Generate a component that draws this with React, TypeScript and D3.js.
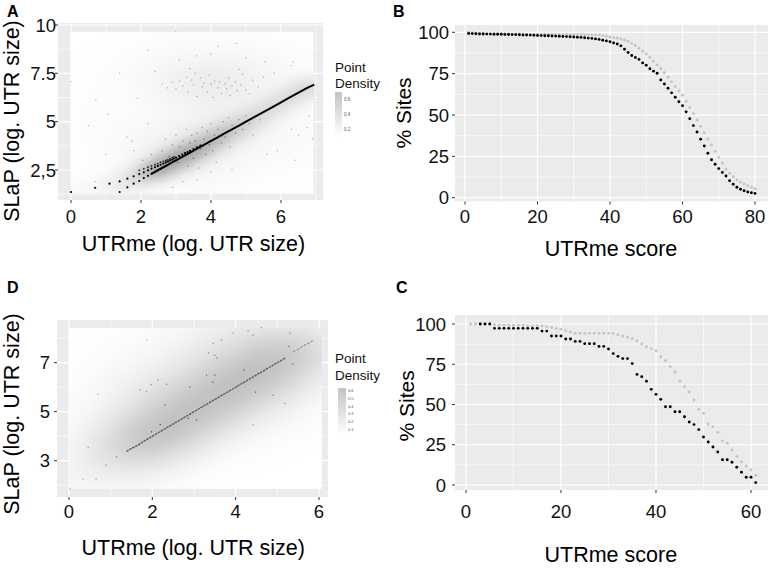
import React, { useMemo } from "react";
import * as d3 from "d3";

const FONT = "'Liberation Sans', Arial, Helvetica, sans-serif";

// ---------------- Panel B (UTRme score vs % sites) ----------------
const bBlack = [
  99.3, 99.2, 99.1, 99.0, 99.0, 98.9, 98.9, 98.8, 98.8, 98.8,
  98.7, 98.7, 98.6, 98.6, 98.5, 98.4, 98.4, 98.3, 98.2, 98.1,
  98.0, 97.9, 97.9, 97.8, 97.7, 97.6, 97.5, 97.4, 97.3, 97.2,
  97.0, 96.9, 96.7, 96.5, 96.3, 96.0, 95.7, 95.2, 94.8, 94.3,
  93.6, 92.9, 91.8, 89.8, 87.8, 86.0, 84.8, 83.6, 81.5, 80.1,
  78.0, 76.5, 75.2, 71.2, 68.7, 66.2, 63.4, 60.7, 58.0, 55.6,
  51.9, 47.8, 43.6, 39.7, 35.4, 31.3, 26.9, 22.9, 20.2, 17.6,
  15.3, 13.1, 10.3, 8.1, 6.3, 5.1, 4.2, 3.4, 3.0, 2.6,
];
const bGrey = [
  100, 99.8, 99.5, 99.4, 99.3, 99.3, 99.2, 99.2, 99.2, 99.1,
  99.1, 99.1, 99.0, 99.0, 99.0, 99.0, 98.9, 98.9, 98.9, 98.9,
  98.8, 98.8, 98.8, 98.8, 98.7, 98.7, 98.7, 98.7, 98.6, 98.6,
  98.6, 98.5, 98.5, 98.5, 98.4, 98.4, 98.3, 98.0, 97.6, 97.2,
  96.8, 96.4, 96.0, 95.3, 94.6, 93.3, 92.0, 90.3, 88.6, 86.9,
  84.8, 82.5, 80.3, 78.0, 75.5, 72.8, 70.0, 67.2, 64.5, 61.9,
  58.3, 54.6, 50.8, 47.0, 43.2, 39.3, 35.5, 31.9, 28.0, 24.4,
  20.8, 17.2, 14.8, 12.7, 10.9, 9.3, 8.3, 7.3, 6.3, 5.4,
];

// ---------------- Panel C ----------------
const cBlack: (number | null)[] = [
  null, null, 100, 100, 100, 97.3, 97.3, 97.3, 97.3, 97.3,
  97.3, 97.3, 97.3, 97.3, 97.3, 95.6, 95.6, 92.5, 92.5, 92.5,
  90.7, 90.7, 89.2, 89.2, 87.8, 87.8, 87.8, 86.1, 86.1, 84.5,
  81.6, 79.9, 78.5, 78.5, 75.4, 68.7, 67.3, 64.4, 59.4, 56.3,
  53.2, 48.6, 48.6, 45.5, 45.5, 42.4, 39.1, 37.5, 34.4, 29.8,
  26.7, 23.6, 20.5, 15.7, 15.7, 14.1, 11.0, 7.9, 4.8, 4.8,
  1.5,
];
const cGrey: (number | null)[] = [
  100, 100, 100, 100, 100, 99.5, 99.2, 99.2, 99.2, 99.2,
  99.2, 99.2, 98.8, 98.8, 98.8, 98.8, 98.3, 97.8, 97.2, 96.7,
  95.8, 95.0, 94.2, 94.2, 94.2, 94.2, 94.2, 94.2, 94.2, 94.2,
  94.2, 93.4, 92.5, 91.7, 90.9, 89.6, 87.6, 85.9, 84.7, 83.4,
  79.7, 77.2, 73.5, 70.2, 64.4, 61.1, 57.8, 52.8, 47.0, 44.5,
  37.9, 36.2, 32.7, 27.3, 25.9, 21.7, 17.6, 14.5, 11.8, 9.3,
  6.0,
];

// ---------------- Panel A (log UTR sizes) ----------------
const aLineX = [2.3, 2.5, 2.7, 2.9, 3.05, 3.2, 3.35, 3.5, 3.65, 3.8, 3.95, 4.1, 4.25, 4.4, 4.6, 4.8, 5.0, 5.3, 5.6, 5.9, 6.2, 6.5, 6.75, 6.95];
const aLineY = [2.3, 2.5, 2.7, 2.9, 3.05, 3.2, 3.35, 3.5, 3.65, 3.8, 3.95, 4.1, 4.25, 4.4, 4.6, 4.8, 5.0, 5.3, 5.6, 5.9, 6.2, 6.5, 6.75, 6.92];
const aStepX = [0.0, 0.69, 1.10, 1.39, 1.39, 1.61, 1.61, 1.79, 1.79, 1.95, 1.95, 2.08, 2.08, 2.20, 2.20, 2.30, 2.30, 2.40, 2.40, 2.48, 2.48, 2.56, 2.56, 2.64, 2.64, 2.71, 2.71, 2.77, 2.83, 2.89, 2.94, 3.0, 3.09, 3.18, 3.26, 3.33, 3.4, 3.5, 3.6, 3.7];
const aStepY = [1.36, 1.58, 1.79, 1.91, 1.36, 2.05, 1.60, 2.17, 1.79, 2.29, 1.93, 2.38, 2.08, 2.48, 2.20, 2.57, 2.30, 2.64, 2.40, 2.71, 2.48, 2.77, 2.56, 2.83, 2.64, 2.89, 2.71, 2.94, 3.0, 3.04, 3.09, 3.14, 3.22, 3.30, 3.37, 3.43, 3.49, 3.58, 3.67, 3.76];
const aStep2X = [1.95, 2.08, 2.20, 2.30, 2.40, 2.48, 2.56, 2.64, 2.71, 2.77, 2.83, 2.89, 2.94];
const aStep2Y = [2.48, 2.56, 2.64, 2.71, 2.77, 2.83, 2.89, 2.94, 3.0, 3.04, 3.09, 3.14, 3.18];
const aScatter: [number, number][] = [
  [2.6, 6.95], [2.75, 6.75], [2.9, 7.05], [3.0, 6.7], [3.1, 7.1], [3.2, 6.85], [3.3, 7.3], [3.35, 6.55], [3.45, 7.15], [3.5, 6.9],
  [3.55, 7.5], [3.6, 6.3], [3.7, 7.25], [3.75, 6.8], [3.8, 7.0], [3.9, 6.55], [3.95, 7.4], [4.0, 6.95], [4.05, 6.25], [4.1, 7.1],
  [4.2, 6.75], [4.25, 7.05], [4.3, 6.45], [4.4, 6.95], [4.45, 6.7], [4.5, 7.25], [4.55, 6.35], [4.6, 6.85], [4.7, 7.05], [4.75, 6.6],
  [4.85, 6.9], [4.9, 7.45], [5.0, 6.65], [5.1, 6.45], [5.2, 7.15], [5.35, 6.8], [5.5, 7.3], [3.4, 7.75], [2.4, 7.6], [4.8, 7.7],
  [5.8, 7.5], [6.3, 7.9], [6.35, 8.1], [2.99, 9.69], [4.2, 8.9], [4.73, 9.05], [5.54, 8.1], [3.1, 8.2], [3.6, 8.4], [4.0, 8.5],
  [2.2, 8.7], [5.0, 8.3], [0.0, 7.07], [0.71, 6.1], [1.39, 7.5], [1.07, 5.4], [1.9, 6.2], [0.5, 4.8], [1.6, 4.2], [1.0, 3.3],
  [1.8, 3.5], [0.69, 1.9], [2.2, 4.9], [1.75, 4.0], [2.3, 3.3], [2.05, 3.0], [2.6, 3.5], [2.7, 4.1], [2.8, 3.2], [2.9, 3.8],
  [3.0, 4.3], [3.05, 2.9], [3.1, 3.7], [3.2, 4.0], [3.25, 3.4], [3.3, 4.6], [3.35, 2.7], [3.4, 3.9], [3.45, 4.3], [3.5, 3.1],
  [3.55, 4.0], [3.6, 4.4], [3.65, 2.6], [3.7, 3.6], [3.75, 4.7], [3.8, 4.1], [3.85, 3.3], [3.9, 4.5], [3.95, 3.8], [4.0, 4.9],
  [4.05, 3.5], [4.1, 4.3], [4.15, 2.9], [4.2, 4.6], [4.3, 3.9], [4.35, 5.0], [4.4, 4.2], [4.5, 5.2], [4.55, 3.7], [4.6, 4.8],
  [4.7, 4.4], [4.8, 5.1], [4.9, 4.6], [5.0, 5.3], [5.1, 4.9], [5.2, 4.3], [5.4, 5.1], [3.6, 2.0], [4.0, 2.4], [3.2, 1.9],
  [4.6, 2.5], [2.9, 1.6], [6.3, 4.6], [6.5, 4.3], [6.8, 5.3], [6.9, 4.1], [6.75, 4.7], [5.9, 3.5], [6.4, 3.0], [5.6, 3.3],
];

// ---------------- Panel D ----------------
const dLineX = [1.38, 1.5, 1.65, 1.8, 1.95, 2.1, 2.3, 2.5, 2.7, 2.9, 3.1, 3.3, 3.5, 3.7, 3.9, 4.1, 4.3, 4.5, 4.7, 4.9, 5.05, 5.2];
const dLineY = [3.38, 3.5, 3.63, 3.8, 3.95, 4.1, 4.3, 4.5, 4.7, 4.9, 5.1, 5.3, 5.5, 5.7, 5.9, 6.1, 6.3, 6.5, 6.7, 6.9, 7.05, 7.2];
const dTailX = [5.38, 5.5, 5.62, 5.75, 5.88];
const dTailY = [7.45, 7.55, 7.68, 7.8, 7.92];
const dScatter: [number, number][] = [
  [4.62, 8.43], [4.42, 8.13], [4.3, 8.3], [3.94, 8.2], [3.66, 7.93], [3.46, 7.79], [3.5, 7.3], [3.55, 7.2], [3.35, 7.4], [3.3, 6.5],
  [3.45, 6.2], [3.5, 6.5], [5.3, 8.2], [5.28, 7.66], [5.37, 6.95], [4.9, 5.68], [5.18, 5.34], [4.42, 4.46], [4.48, 5.8], [4.2, 6.7],
  [0.69, 5.71], [0.46, 3.55], [0.02, 1.85], [0.34, 2.25], [0.65, 2.25], [0.89, 2.82], [1.14, 3.16], [1.86, 7.93], [1.86, 5.82], [1.97, 6.1],
  [2.14, 6.3], [2.3, 5.27], [2.34, 6.12], [1.98, 4.18], [2.19, 4.47], [2.86, 4.73], [3.06, 4.67], [1.7, 5.9], [2.9, 6.0],
];

// ---------------- axis ticks / legend labels ----------------
const aXTicks = [0, 2, 4, 6];
const aXMinor = [1, 3, 5, 7];
const aYTicks = [2.5, 5, 7.5, 10];
const aYLabels = ["2,5", "5", "7.5", "10"];
const aYMinor = [1.25, 3.75, 6.25, 8.75];
const dXTicks = [0, 2, 4, 6];
const dXMinor = [1, 3, 5];
const dYTicks = [3, 5, 7];
const dYMinor = [2, 4, 6, 8];
const bXTicks = [0, 20, 40, 60, 80];
const bXMinor = [10, 30, 50, 70];
const cXTicks = [0, 20, 40, 60];
const cXMinor = [10, 30, 50];
const pctTicks = [0, 25, 50, 75, 100];
const pctMinor = [12.5, 37.5, 62.5, 87.5];
const aLegendTicks = [0.2, 0.4, 0.6];
const dLegendTicks = [0.1, 0.2, 0.3, 0.4, 0.5, 0.6];

type Src = { xs: number[]; ys: number[]; w: number; h: number };

function densityAt(srcs: Src[], x: number, y: number) {
  let s = 0;
  for (const src of srcs) {
    const k = -0.5 / (src.h * src.h);
    for (let i = 0; i < src.xs.length; i++) {
      const dx = x - src.xs[i];
      const dy = y - src.ys[i];
      s += src.w * Math.exp(k * (dx * dx + dy * dy));
    }
  }
  return s;
}

function rasterImage(srcs: Src[], x0: number, x1: number, y0: number, y1: number, cols: number, rows: number, span: number, gamma: number) {
  const vals = new Float32Array(cols * rows);
  let max = 0;
  for (let r = 0; r < rows; r++) {
    const y = y1 - ((r + 0.5) / rows) * (y1 - y0);
    for (let c = 0; c < cols; c++) {
      const x = x0 + ((c + 0.5) / cols) * (x1 - x0);
      const v = densityAt(srcs, x, y);
      vals[r * cols + c] = v;
      if (v > max) max = v;
    }
  }
  const canvas = document.createElement("canvas");
  canvas.width = cols;
  canvas.height = rows;
  const ctx = canvas.getContext("2d")!;
  const img = ctx.createImageData(cols, rows);
  for (let i = 0; i < cols * rows; i++) {
    const t = Math.pow(vals[i] / max, gamma);
    const g = Math.round(255 - span * t);
    img.data[i * 4] = g;
    img.data[i * 4 + 1] = g;
    img.data[i * 4 + 2] = g;
    img.data[i * 4 + 3] = 255;
  }
  ctx.putImageData(img, 0, 0);
  return { url: canvas.toDataURL(), max };
}

type Box = { left: number; right: number; top: number; bottom: number };

function Grid({ box, x, y, xMajor, xMinor, yMajor, yMinor }: any) {
  return (
    <g>
      <rect x={box.left} y={box.top} width={box.right - box.left} height={box.bottom - box.top} fill="#EBEBEB" />
      {xMinor.map((v: number) => (
        <line key={"xm" + v} x1={x(v)} x2={x(v)} y1={box.top} y2={box.bottom} stroke="#fff" strokeWidth={0.6} />
      ))}
      {yMinor.map((v: number) => (
        <line key={"ym" + v} x1={box.left} x2={box.right} y1={y(v)} y2={y(v)} stroke="#fff" strokeWidth={0.6} />
      ))}
      {xMajor.map((v: number) => (
        <line key={"xM" + v} x1={x(v)} x2={x(v)} y1={box.top} y2={box.bottom} stroke="#fff" strokeWidth={1.2} />
      ))}
      {yMajor.map((v: number) => (
        <line key={"yM" + v} x1={box.left} x2={box.right} y1={y(v)} y2={y(v)} stroke="#fff" strokeWidth={1.2} />
      ))}
    </g>
  );
}

function Axes({ box, x, y, xMajor, yMajor, yLabels, xBase, yRight, fs }: any) {
  return (
    <g fontFamily={FONT} fill="#111">
      {xMajor.map((v: number) => (
        <g key={"xt" + v}>
          <line x1={x(v)} x2={x(v)} y1={box.bottom} y2={box.bottom + 3} stroke="#333" strokeWidth={1} />
          <text x={x(v)} y={xBase} textAnchor="middle" fontSize={fs}>{v}</text>
        </g>
      ))}
      {yMajor.map((v: number, i: number) => (
        <g key={"yt" + v}>
          <line x1={box.left - 3} x2={box.left} y1={y(v)} y2={y(v)} stroke="#333" strokeWidth={1} />
          <text x={yRight} y={y(v)} dy="0.36em" textAnchor="end" fontSize={fs}>{yLabels ? yLabels[i] : v}</text>
        </g>
      ))}
    </g>
  );
}

export default function App() {
  // ---------- layout ----------
  const boxA: Box = { left: 58, right: 323, top: 23, bottom: 200 };
  const boxB: Box = { left: 455, right: 768, top: 25, bottom: 201.5 };
  const boxD: Box = { left: 57, right: 328, top: 320, bottom: 497 };
  const boxC: Box = { left: 455, right: 768, top: 315, bottom: 490 };

  const xA = d3.scaleLinear().domain([-0.371, 7.2]).range([boxA.left, boxA.right]);
  const yA = d3.scaleLinear().domain([0.947, 10.103]).range([boxA.bottom, boxA.top]);
  const xB = d3.scaleLinear().domain([-2.759, 83.586]).range([boxB.left, boxB.right]);
  const yB = d3.scaleLinear().domain([-2.3, 104.41]).range([boxB.bottom, boxB.top]);
  const xD = d3.scaleLinear().domain([-0.288, 6.216]).range([boxD.left, boxD.right]);
  const yD = d3.scaleLinear().domain([1.518, 8.743]).range([boxD.bottom, boxD.top]);
  const xC = d3.scaleLinear().domain([-2.316, 63.58]).range([boxC.left, boxC.right]);
  const yC = d3.scaleLinear().domain([-3.106, 105.59]).range([boxC.bottom, boxC.top]);

  const aSrc: Src[] = useMemo(
    () => [
      { xs: aLineX, ys: aLineY, w: 1, h: 0.38 },
      { xs: aStepX, ys: aStepY, w: 0.25, h: 0.38 },
      { xs: aScatter.map((p) => p[0]), ys: aScatter.map((p) => p[1]), w: 0.05, h: 0.85 },
    ],
    []
  );
  const dSrc: Src[] = useMemo(
    () => [
      { xs: dLineX, ys: dLineY, w: 1, h: 0.85 },
      { xs: dTailX, ys: dTailY, w: 0.6, h: 0.85 },
      { xs: dScatter.map((p) => p[0]), ys: dScatter.map((p) => p[1]), w: 0.3, h: 0.9 },
    ],
    []
  );

  const aRaster = useMemo(() => rasterImage(aSrc, 0, 6.93, 1.3, 9.65, 121, 81, 88, 0.9), [aSrc]);
  const dRaster = useMemo(() => rasterImage(dSrc, 0, 6.07, 1.85, 8.42, 127, 81, 62, 1.0), [dSrc]);

  const ptColor = (srcs: Src[], max: number, px: number, py: number) => {
    const t = Math.min(1, densityAt(srcs, px, py) / max);
    return d3.interpolateRgb("#b8b8b8", "#4a4a4a")(t);
  };

  const lineA = d3.line<number>().x((_, i) => xA(aLineX[i])).y((_, i) => yA(aLineY[i]));
  const lineD = d3.line<number>().x((_, i) => xD(dLineX[i])).y((_, i) => yD(dLineY[i]));
  const tailD = d3.line<number>().x((_, i) => xD(dTailX[i])).y((_, i) => yD(dTailY[i]));

  const legendA = d3.scaleLinear().domain([0.1, 0.7]).range([137, 92]);
  const legendD = d3.scaleLinear().domain([0.1, 0.6]).range([429.5, 390.7]);

  const TF = 18.5;

  return (
    <svg width={772} height={569} style={{ position: "absolute", left: 0, top: 0 }} fontFamily={FONT}>
      <defs>
        <linearGradient id="legGrad" x1="0" y1="1" x2="0" y2="0">
          <stop offset="0" stopColor="#ffffff" />
          <stop offset="1" stopColor="#c2c2c2" />
        </linearGradient>
      </defs>
      <rect x={0} y={0} width={772} height={569} fill="#fff" />

      {/* ---------------- Panel A ---------------- */}
      <Grid box={boxA} x={xA} y={yA} xMajor={aXTicks} xMinor={aXMinor} yMajor={aYTicks} yMinor={aYMinor} />
      <image href={aRaster.url} x={xA(0)} y={yA(9.65)} width={xA(6.93) - xA(0)} height={yA(1.3) - yA(9.65)} preserveAspectRatio="none" />
      {aScatter.map((p, i) => (
        <rect key={"as" + i} x={xA(p[0]) - 0.6} y={yA(p[1]) - 0.6} width={1.2} height={1.2} fill={ptColor(aSrc, aRaster.max, p[0], p[1])} />
      ))}
      <path d={lineA(aLineX) || ""} fill="none" stroke="#000" strokeWidth={2} />
      {aStepX.map((v, i) => (
        <circle key={"ap" + i} cx={xA(v)} cy={yA(aStepY[i])} r={1.1} fill="#000" />
      ))}
      {aStep2X.map((v, i) => (
        <circle key={"ap2" + i} cx={xA(v)} cy={yA(aStep2Y[i])} r={0.9} fill="#222" />
      ))}
      <Axes box={boxA} x={xA} y={yA} xMajor={aXTicks} yMajor={aYTicks} yLabels={aYLabels} xBase={222.7} yRight={56} fs={TF} />
      <text x={193.5} y={250.5} textAnchor="middle" fontSize={21.5} fill="#000">UTRme (log. UTR size)</text>
      <text transform="translate(19,121) rotate(-90)" textAnchor="middle" fontSize={21.5} fill="#000">SLaP (log. UTR size)</text>
      <text x={335} y={72} fontSize={13.5} fill="#111">Point</text>
      <text x={335} y={88} fontSize={13.5} fill="#111">Density</text>
      <rect x={335} y={92} width={7} height={45} fill="url(#legGrad)" />
      {aLegendTicks.map((v) => (
        <text key={"la" + v} x={344} y={legendA(v)} dy="0.35em" fontSize={4.5} fill="#555">{v.toFixed(1)}</text>
      ))}
      <text x={7} y={17} fontSize={16} fontWeight="bold" fill="#000">A</text>

      {/* ---------------- Panel B ---------------- */}
      <Grid box={boxB} x={xB} y={yB} xMajor={bXTicks} xMinor={bXMinor} yMajor={pctTicks} yMinor={pctMinor} />
      {bGrey.map((v, i) => (
        <circle key={"bg" + i} cx={xB(i + 1)} cy={yB(v)} r={1.45} fill="#c4c4c4" />
      ))}
      {bBlack.map((v, i) => (
        <circle key={"bb" + i} cx={xB(i + 1)} cy={yB(v)} r={1.45} fill="#000" />
      ))}
      <Axes box={boxB} x={xB} y={yB} xMajor={bXTicks} yMajor={pctTicks} xBase={222.7} yRight={449} fs={TF} />
      <text x={611} y={255.5} textAnchor="middle" fontSize={21.5} fill="#000">UTRme score</text>
      <text transform="translate(411,113) rotate(-90)" textAnchor="middle" fontSize={21} fill="#000">% Sites</text>
      <text x={393} y={17} fontSize={16} fontWeight="bold" fill="#000">B</text>

      {/* ---------------- Panel D ---------------- */}
      <Grid box={boxD} x={xD} y={yD} xMajor={dXTicks} xMinor={dXMinor} yMajor={dYTicks} yMinor={dYMinor} />
      <image href={dRaster.url} x={xD(0)} y={yD(8.42)} width={xD(6.07) - xD(0)} height={yD(1.85) - yD(8.42)} preserveAspectRatio="none" />
      {dScatter.map((p, i) => (
        <rect key={"ds" + i} x={xD(p[0]) - 0.6} y={yD(p[1]) - 0.6} width={1.2} height={1.2} fill={ptColor(dSrc, dRaster.max, p[0], p[1])} />
      ))}
      <path d={lineD(dLineX) || ""} fill="none" stroke="#5e5e5e" strokeWidth={1.4} strokeDasharray="2.5 0.8" />
      <path d={tailD(dTailX) || ""} fill="none" stroke="#959595" strokeWidth={1.2} strokeDasharray="2.5 1.5" />
      <Axes box={boxD} x={xD} y={yD} xMajor={dXTicks} yMajor={dYTicks} xBase={518.3} yRight={50} fs={TF} />
      <text x={193.3} y={555.4} textAnchor="middle" fontSize={21.5} fill="#000">UTRme (log. UTR size)</text>
      <text transform="translate(19,414) rotate(-90)" textAnchor="middle" fontSize={21.5} fill="#000">SLaP (log. UTR size)</text>
      <text x={335} y={363} fontSize={13.5} fill="#111">Point</text>
      <text x={335} y={380} fontSize={13.5} fill="#111">Density</text>
      <rect x={338} y={388} width={8} height={47} fill="url(#legGrad)" />
      {dLegendTicks.map((v) => (
        <text key={"ld" + v} x={348} y={legendD(v)} dy="0.35em" fontSize={4} fill="#555">{v.toFixed(1)}</text>
      ))}
      <text x={7} y={293} fontSize={16} fontWeight="bold" fill="#000">D</text>

      {/* ---------------- Panel C ---------------- */}
      <Grid box={boxC} x={xC} y={yC} xMajor={cXTicks} xMinor={cXMinor} yMajor={pctTicks} yMinor={pctMinor} />
      {cGrey.map((v, i) =>
        v == null ? null : <circle key={"cg" + i} cx={xC(i + 1)} cy={yC(v)} r={1.45} fill="#c4c4c4" />
      )}
      {cBlack.map((v, i) =>
        v == null ? null : <circle key={"cb" + i} cx={xC(i + 1)} cy={yC(v)} r={1.45} fill="#000" />
      )}
      <Axes box={boxC} x={xC} y={yC} xMajor={cXTicks} yMajor={pctTicks} xBase={518.3} yRight={446} fs={TF} />
      <text x={610.8} y={562} textAnchor="middle" fontSize={21.5} fill="#000">UTRme score</text>
      <text transform="translate(414,405.8) rotate(-90)" textAnchor="middle" fontSize={21} fill="#000">% Sites</text>
      <text x={396} y={293} fontSize={16} fontWeight="bold" fill="#000">C</text>
    </svg>
  );
}
